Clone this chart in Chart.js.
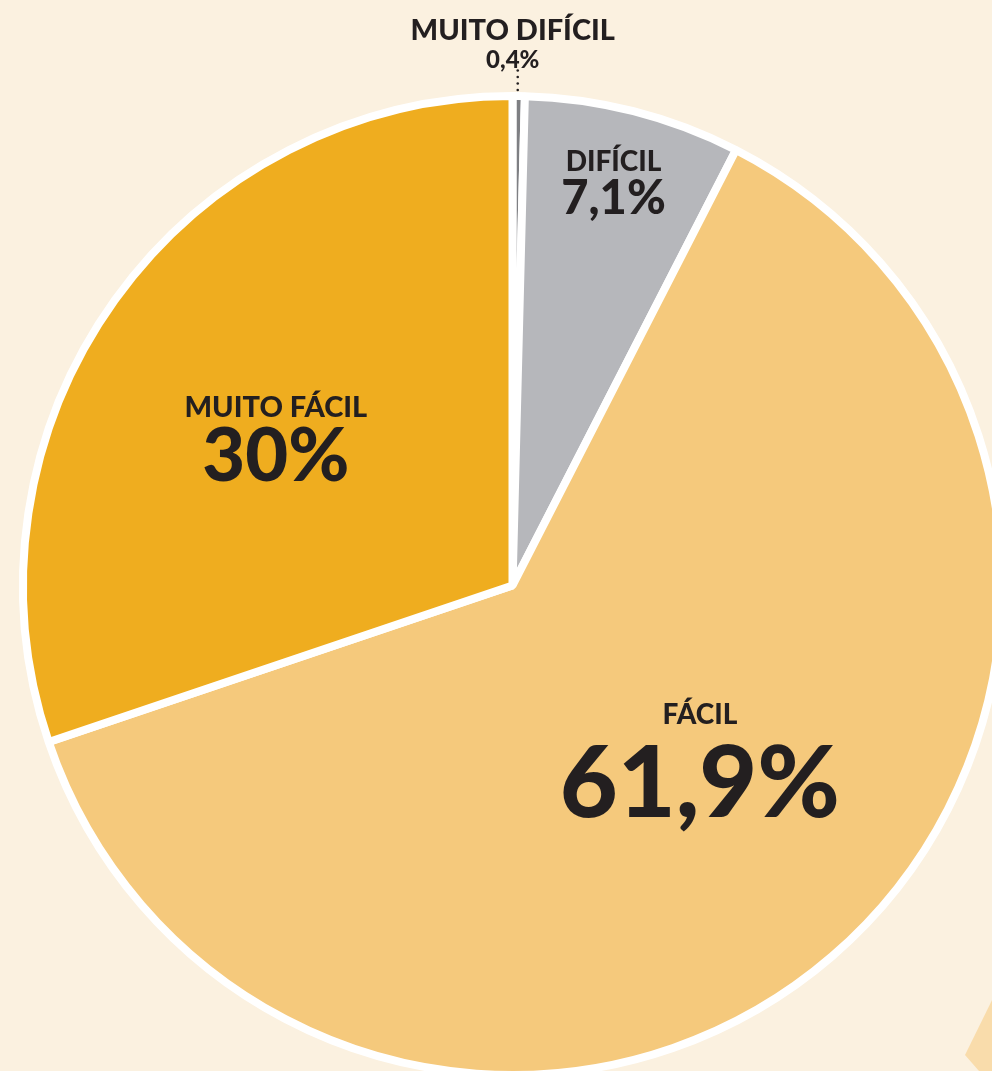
<!DOCTYPE html>
<html>
<head>
<meta charset="utf-8">
<script src="https://cdn.jsdelivr.net/npm/chart.js@4.4.1/dist/chart.umd.min.js"></script>
<style>
  html, body { margin: 0; padding: 0; width: 992px; height: 1071px; overflow: hidden; background: #FBF1E0; }
  #deco { position: absolute; left: 0; top: 0; width: 992px; height: 1071px; background: #F9DCAB;
          clip-path: polygon(965px 1055px, 996px 992px, 1000px 1090px, 979px 1071px); }
  #wrap { position: absolute; left: 0; top: 0; width: 1006px; height: 1079px; }
</style>
</head>
<body>
<div id="deco"></div>
<div id="wrap"><canvas id="myChart" width="1006" height="1079"></canvas></div>
<script>
// dados
const labels = ['MUITO DIFÍCIL', 'DIFÍCIL', 'FÁCIL', 'MUITO FÁCIL']
const values = [0.4, 7.1, 61.9, 30]
const valueText = ['0,4%', '7,1%', '61,9%', '30%']
const colors = ['#7E7F83', '#B6B7BB', '#F5C97C', '#EFAD1F']

// estilo dos rótulos (fração do raio, ajuste de ângulo em graus, tamanhos)
const labelPos = [
  { f: 1.0, da: 0, name: 29, num: 24, outside: true },
  { f: 0.835, da: 0, name: 28, num: 47, gap: 0.92 },
  { f: 0.53, da: -5.5, name: 28, num: 100, gap: 0.93 },
  { f: 0.565, da: -4.5, name: 29, num: 74, gap: 0.86 }
]
const ink = '#231F20'
const fam = 'Lato, "Open Sans", sans-serif'

const labelPlugin = {
  id: 'sliceLabels',
  afterDraw(chart) {
    const ctx = chart.ctx
    const arcs = chart.getDatasetMeta(0).data
    ctx.save()
    ctx.fillStyle = ink
    ctx.textAlign = 'center'
    ctx.textBaseline = 'alphabetic'
    arcs.forEach((arc, i) => {
      const p = arc.getProps(['x', 'y', 'startAngle', 'endAngle', 'outerRadius'], true)
      const cfg = labelPos[i]
      const a = (p.startAngle + p.endAngle) / 2 + cfg.da * Math.PI / 180
      if (cfg.outside) {
        const ex = p.x + Math.cos(a) * (p.outerRadius + 4)
        const ey = p.y + Math.sin(a) * (p.outerRadius + 4)
        // linha pontilhada até o rótulo
        for (let y = ey - 2; y > ey - 26; y -= 6.5) {
          ctx.beginPath()
          ctx.arc(ex - 1, y, 1.3, 0, Math.PI * 2)
          ctx.fill()
        }
        ctx.font = '900 ' + cfg.name + 'px ' + fam
        ctx.fillText(labels[i], ex - 6, ey - 52)
        ctx.font = '900 ' + cfg.num + 'px ' + fam
        ctx.fillText(valueText[i], ex - 6, ey - 24)
        return
      }
      const x = p.x + Math.cos(a) * p.outerRadius * cfg.f
      const y = p.y + Math.sin(a) * p.outerRadius * cfg.f
      const base = y + cfg.num * 0.52
      ctx.font = '900 ' + cfg.name + 'px ' + fam
      ctx.fillText(labels[i], x, base - cfg.num * cfg.gap)
      ctx.font = '900 ' + cfg.num + 'px ' + fam
      ctx.fillText(valueText[i], x, base)
    })
    ctx.restore()
  }
}

const ctx = document.getElementById('myChart').getContext('2d')
const myChart = new Chart(ctx, {
  type: 'pie',
  data: {
    labels: labels,
    datasets: [{
      data: values,
      backgroundColor: colors,
      borderColor: '#FFFFFF',
      borderWidth: 8
    }]
  },
  options: {
    responsive: false,
    animation: false,
    layout: { padding: { left: 19, top: 92, right: 0, bottom: 0 } },
    plugins: {
      legend: { display: false },
      tooltip: { enabled: false }
    }
  },
  plugins: [labelPlugin]
})
</script>
</body>
</html>
